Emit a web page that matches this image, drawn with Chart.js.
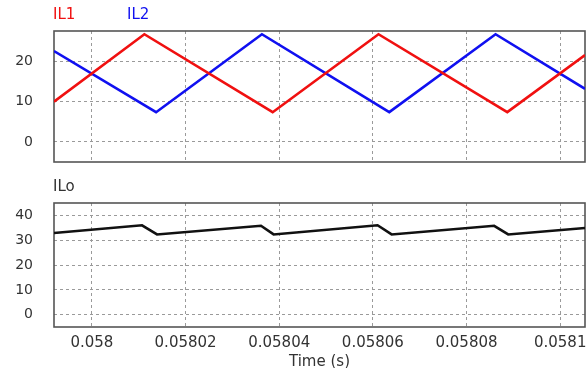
<!DOCTYPE html>
<html>
<head>
<meta charset="utf-8">
<script src="https://cdn.jsdelivr.net/npm/chart.js@4.4.1/dist/chart.umd.min.js"></script>
<style>
  html, body { margin: 0; padding: 0; background: #fff; }
  #wrap { position: relative; width: 587px; height: 368px; overflow: hidden; }
  canvas { position: absolute; left: 0; }
  #top-canvas { top: 0; }
  #bottom-canvas { top: 170px; }
</style>
</head>
<body>
<div id="wrap">
  <canvas id="top-canvas" width="587" height="172"></canvas>
  <canvas id="bottom-canvas" width="587" height="198"></canvas>
</div>
<script>
// time axis (s)
const xMin = 0.0579919
const xMax = 0.0581053
const xTicks = [0.058, 0.05802, 0.05804, 0.05806, 0.05808, 0.0581]

// IL1 / IL2 vertices
const il1Time = [0.0579919, 0.0580112, 0.0580386, 0.0580612, 0.0580887, 0.0581053]
const il1Vals = [10.0, 26.8, 7.4, 26.8, 7.4, 21.6]
const il2Time = [0.0579919, 0.0580137, 0.0580363, 0.0580635, 0.0580862, 0.0581053]
const il2Vals = [22.6, 7.4, 26.8, 7.4, 26.8, 13.2]
const topTicks = [0, 10, 20]

// ILo vertices
const iloTime = [0.0579919, 0.0580107, 0.0580139, 0.0580361, 0.0580388, 0.0580610, 0.0580640, 0.0580859, 0.0580889, 0.0581053]
const iloVals = [33.0, 36.1, 32.4, 35.9, 32.4, 36.1, 32.4, 35.9, 32.4, 35.0]
const bottomTicks = [0, 10, 20, 30, 40]

const FONT = 'DejaVu Sans'
const TEXT = '#333'

const toPoints = (ts, vs) => ts.map((t, i) => ({ x: t, y: vs[i] }))

// frame round the plot area
const framePlugin = {
  id: 'frame',
  beforeDatasetsDraw(chart) {
    const { ctx, chartArea: a } = chart
    ctx.save()
    ctx.strokeStyle = '#555'
    ctx.lineWidth = 1.6
    ctx.strokeRect(a.left, a.top, a.right - a.left, a.bottom - a.top)
    ctx.restore()
  }
}

// dataset names above the plot, in the line colour
const namesPlugin = {
  id: 'names',
  afterDraw(chart, args, opts) {
    const ctx = chart.ctx
    ctx.save()
    ctx.font = `15px "${FONT}"`
    ctx.textBaseline = 'middle'
    chart.data.datasets.forEach((ds, i) => {
      ctx.fillStyle = opts.colors ? opts.colors[i] : ds.borderColor
      ctx.fillText(ds.label, opts.xs[i], opts.y)
    })
    ctx.restore()
  }
}

function yScale(min, max, ticks) {
  return {
    type: 'linear',
    min: min,
    max: max,
    afterBuildTicks: s => { s.ticks = ticks.map(v => ({ value: v })) },
    afterFit: s => {
      s.width = 54
      s.paddingTop = 0
      s.paddingBottom = 0
    },
    grid: { color: '#9a9a9a', lineWidth: 1, drawTicks: false },
    border: { display: false, dash: [3, 3] },
    ticks: { color: TEXT, padding: 21, autoSkip: false, font: { family: FONT, size: 14 } }
  }
}

function xScale(showLabels) {
  return {
    type: 'linear',
    min: xMin,
    max: xMax,
    afterBuildTicks: s => { s.ticks = xTicks.map(v => ({ value: v })) },
    afterFit: s => {
      s.height = showLabels ? 41 : 0
      s.paddingLeft = 0
      s.paddingRight = 0
    },
    grid: { color: '#9a9a9a', lineWidth: 1, drawTicks: false },
    border: { display: false, dash: [3, 3] },
    ticks: {
      display: showLabels,
      color: TEXT,
      padding: 7,
      maxRotation: 0,
      autoSkip: false,
      font: { family: FONT, size: 15 },
      callback: v => String(v)
    },
    title: {
      display: showLabels,
      text: 'Time (s)',
      color: TEXT,
      padding: { top: 0, bottom: -3 },
      font: { family: FONT, size: 15 }
    }
  }
}

const lineDefaults = { borderWidth: 2.6, pointRadius: 0, tension: 0, fill: false }

new Chart(document.getElementById('top-canvas'), {
  type: 'line',
  data: {
    datasets: [
      { label: 'IL1', data: toPoints(il1Time, il1Vals), borderColor: '#f01010', ...lineDefaults },
      { label: 'IL2', data: toPoints(il2Time, il2Vals), borderColor: '#1010f0', ...lineDefaults }
    ]
  },
  options: {
    responsive: false,
    animation: false,
    devicePixelRatio: 1,
    layout: { padding: { top: 31, right: 2, bottom: 10, left: 0 } },
    scales: { x: xScale(false), y: yScale(-5, 27.6, topTicks) },
    plugins: {
      legend: { display: false },
      tooltip: { enabled: false },
      names: { xs: [53, 127], y: 15 }
    }
  },
  plugins: [framePlugin, namesPlugin]
})

new Chart(document.getElementById('bottom-canvas'), {
  type: 'line',
  data: {
    datasets: [
      { label: 'ILo', data: toPoints(iloTime, iloVals), borderColor: '#111', ...lineDefaults }
    ]
  },
  options: {
    responsive: false,
    animation: false,
    devicePixelRatio: 1,
    layout: { padding: { top: 33, right: 2, bottom: 0, left: 0 } },
    scales: { x: xScale(true), y: yScale(-5, 45.1, bottomTicks) },
    plugins: {
      legend: { display: false },
      tooltip: { enabled: false },
      names: { xs: [53], y: 17, colors: [TEXT] }
    }
  },
  plugins: [framePlugin, namesPlugin]
})
</script>
</body>
</html>
